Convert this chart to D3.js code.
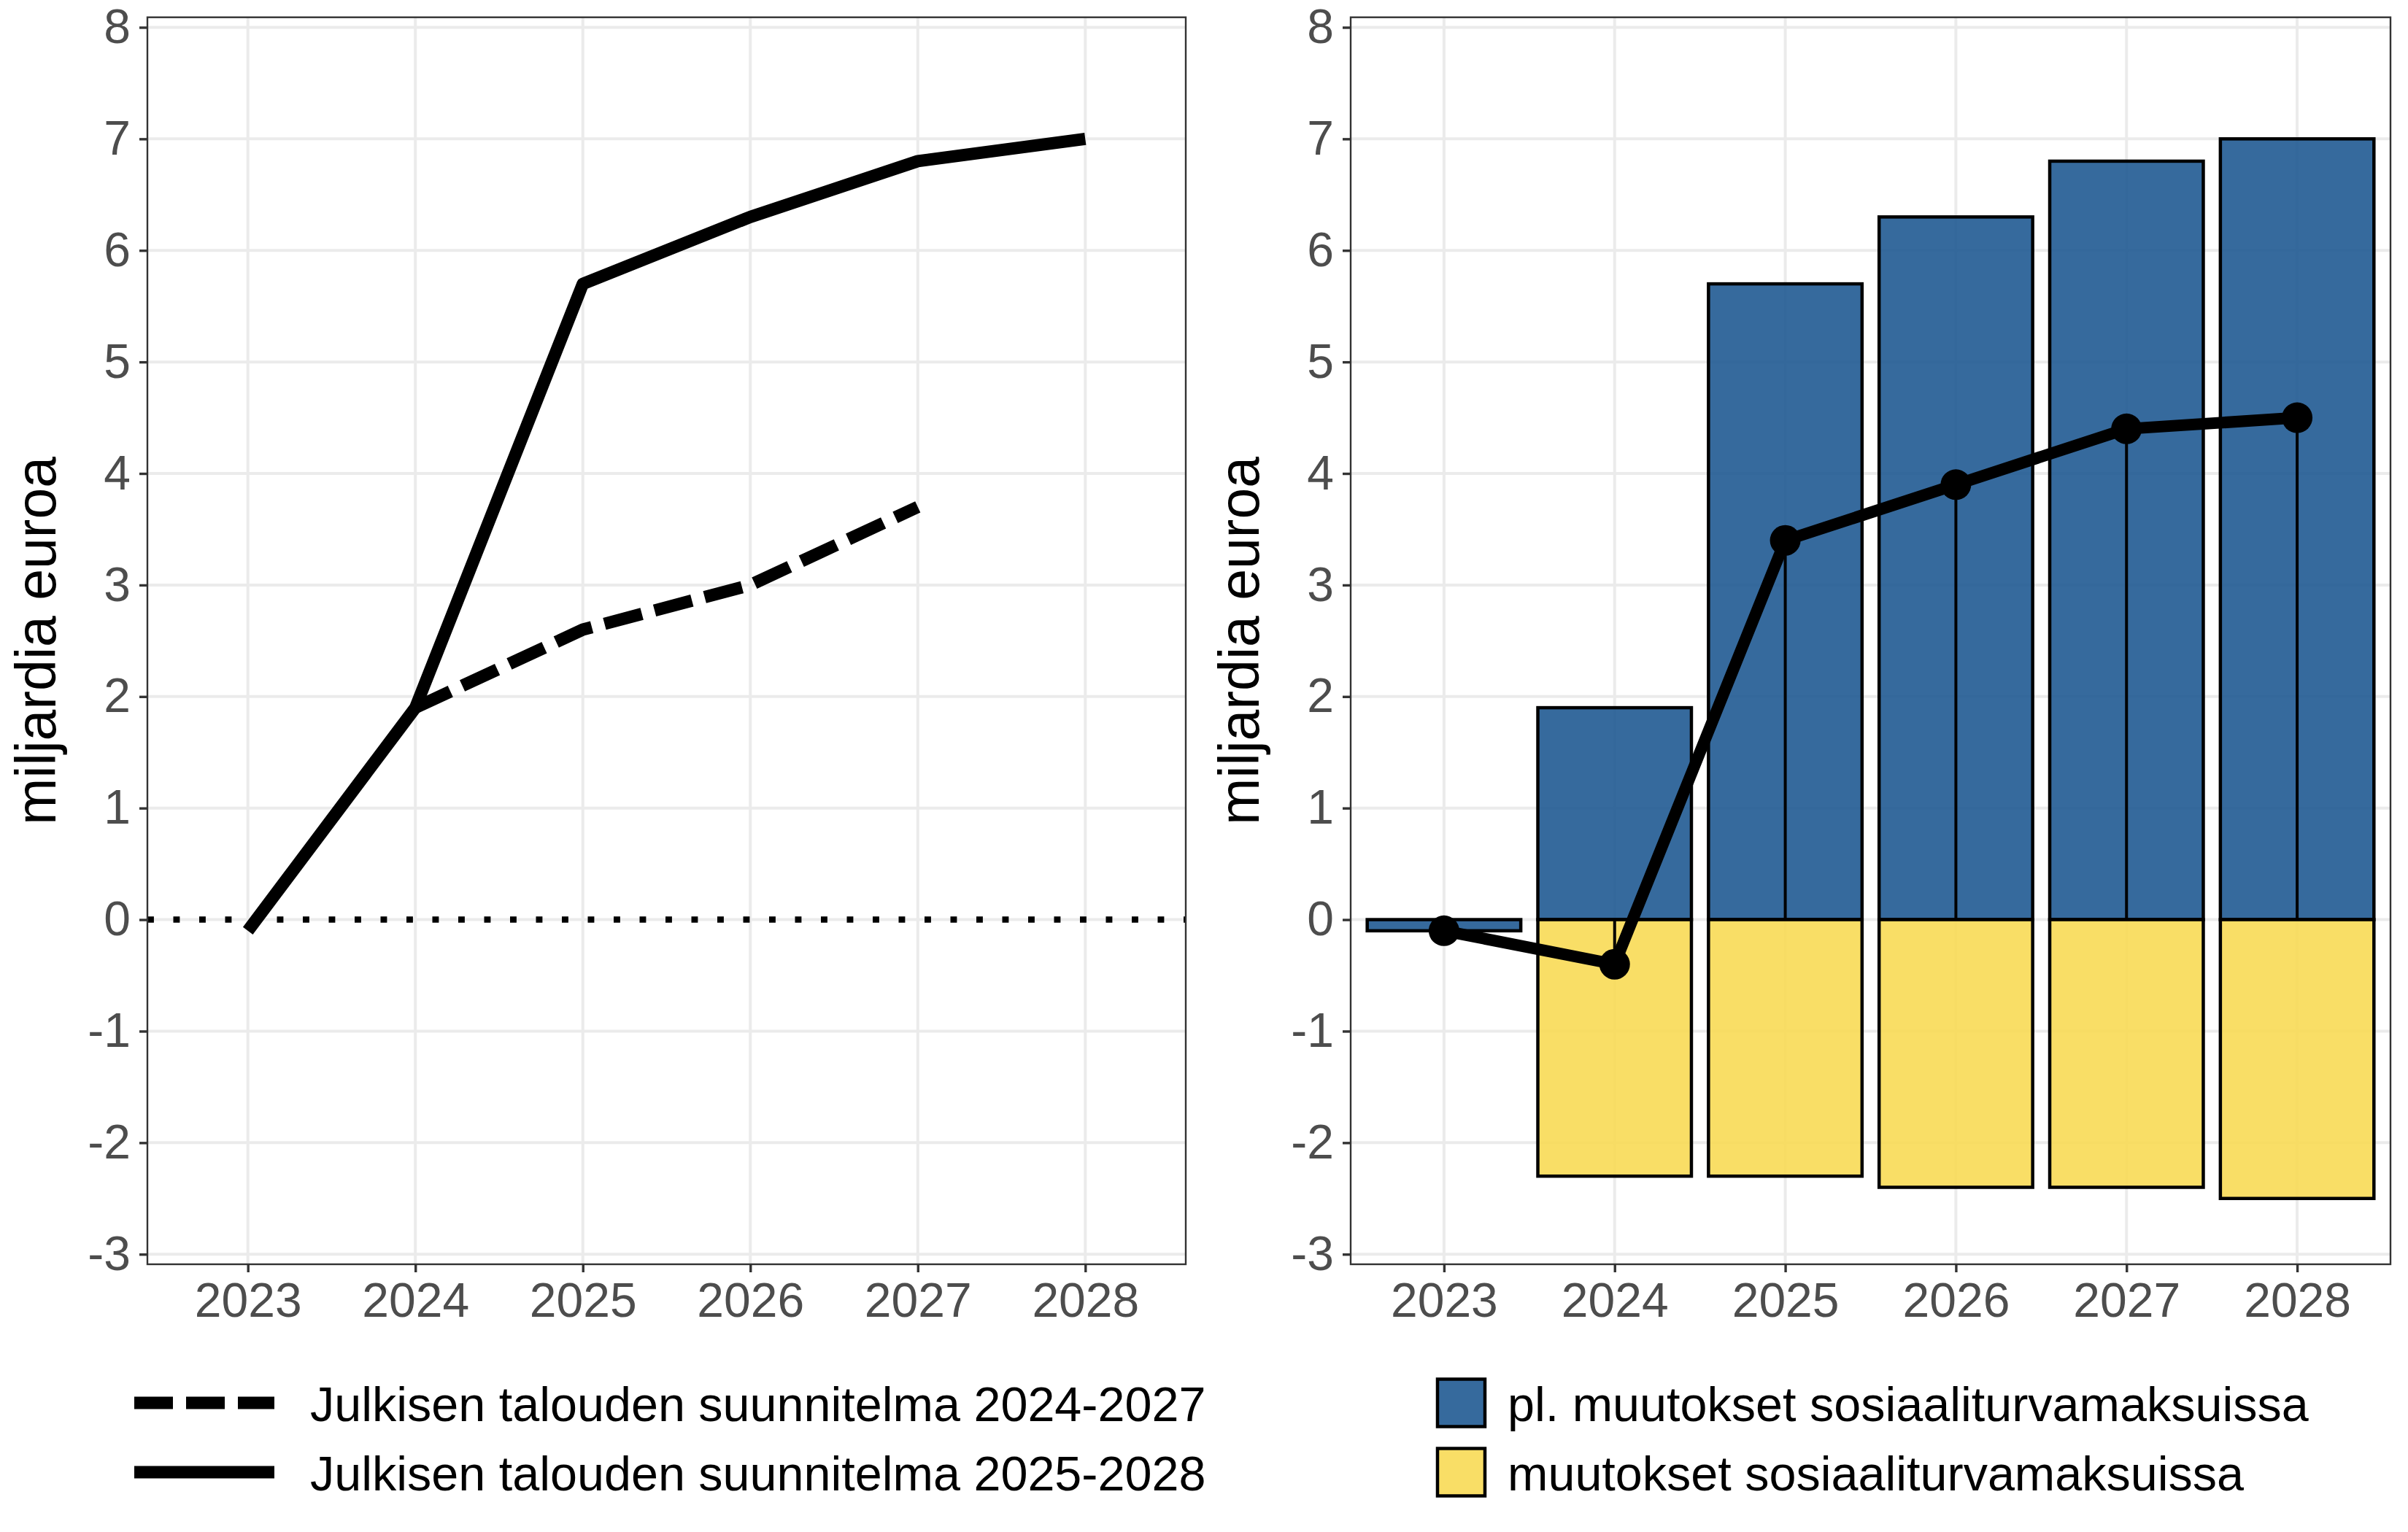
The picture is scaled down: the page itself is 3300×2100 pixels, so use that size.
<!DOCTYPE html>
<html><head><meta charset="utf-8">
<script src="https://cdn.jsdelivr.net/npm/d3@7"></script>
<style>body{margin:0;background:#fff} svg{display:block} text{font-family:"Liberation Sans",Arial,sans-serif}</style>
</head><body><svg id="c" width="3300" height="2100"></svg>
<script>
// ---- data ----
const years = ["2023","2024","2025","2026","2027","2028"];
const yTicks = [-3,-2,-1,0,1,2,3,4,5,6,7,8];
const planOldYears = ["2024","2025","2026","2027"];
const planOldValues = [1.9, 2.6, 3.0, 3.7];           // Julkisen talouden suunnitelma 2024-2027
const planNewValues = [-0.1, 1.9, 5.7, 6.3, 6.8, 7.0]; // Julkisen talouden suunnitelma 2025-2028
const exclSocialValues = [-0.1, 1.9, 5.7, 6.3, 6.8, 7.0]; // pl. muutokset sosiaaliturvamaksuissa
const socialValues = [0, -2.3, -2.3, -2.4, -2.4, -2.5];   // muutokset sosiaaliturvamaksuissa
const totalValues = [-0.1, -0.4, 3.4, 3.9, 4.4, 4.5];
const yTitle = "miljardia euroa";
const lineLegend = ["Julkisen talouden suunnitelma 2024-2027","Julkisen talouden suunnitelma 2025-2028"];
const barLegend = ["pl. muutokset sosiaaliturvamaksuissa","muutokset sosiaaliturvamaksuissa"];

const svg = d3.select("#c");
const TOP = 23.7, BOT = 1733;
const y = d3.scaleLinear().domain([-3.09, 8.09]).range([BOT, TOP]);
const BLUE = "#205a92", YELLOW = "#F8DA55";

function panel(x0, x1, pad, titleX) {
  const x = d3.scalePoint().domain(years).range([x0, x1]).padding(pad);
  const g = svg.append("g");
  g.append("rect").attr("x", x0).attr("y", TOP).attr("width", x1 - x0).attr("height", BOT - TOP).attr("fill", "#fff");
  g.selectAll(".gh").data(yTicks).join("line")
    .attr("x1", x0).attr("x2", x1).attr("y1", d => y(d)).attr("y2", d => y(d))
    .attr("stroke", "#EBEBEB").attr("stroke-width", 4);
  g.selectAll(".gv").data(years).join("line")
    .attr("x1", d => x(d)).attr("x2", d => x(d)).attr("y1", TOP).attr("y2", BOT)
    .attr("stroke", "#EBEBEB").attr("stroke-width", 4);
  const ay = svg.append("g").attr("transform", `translate(${x0},0)`)
    .call(d3.axisLeft(y).tickValues(yTicks).tickSize(11).tickPadding(12).tickFormat(d => String(d)));
  const ax = svg.append("g").attr("transform", `translate(0,${BOT})`)
    .call(d3.axisBottom(x).tickSize(11).tickPadding(14));
  [ay, ax].forEach(a => {
    a.select(".domain").remove();
    a.selectAll(".tick line").attr("stroke", "#333333").attr("stroke-width", 3.4);
    a.selectAll(".tick text").attr("fill", "#4D4D4D").attr("font-size", 66)
      .attr("font-family", '"Liberation Sans", Arial, sans-serif');
  });
  svg.append("text").attr("transform", `translate(${titleX},${(TOP + BOT) / 2}) rotate(-90)`)
    .attr("text-anchor", "middle").attr("font-size", 77).attr("fill", "#000").text(yTitle);
  return {x, g};
}

// ---- left panel ----
const L = panel(202, 1625, 0.6, 76);
L.g.append("line").attr("x1", 202).attr("x2", 1625).attr("y1", y(0)).attr("y2", y(0))
  .attr("stroke", "#000").attr("stroke-width", 8.5).attr("stroke-dasharray", "8.9,26.6");
const lineGen = d3.line();
L.g.append("path")
  .attr("d", lineGen(planOldYears.map((yr, i) => [L.x(yr), y(planOldValues[i])])))
  .attr("fill", "none").attr("stroke", "#000").attr("stroke-width", 17)
  .attr("stroke-dasharray", "53,18").attr("stroke-linejoin", "round");
L.g.append("path")
  .attr("d", lineGen(years.map((yr, i) => [L.x(yr), y(planNewValues[i])])))
  .attr("fill", "none").attr("stroke", "#000").attr("stroke-width", 17).attr("stroke-linejoin", "round");
svg.append("rect").attr("x", 202).attr("y", TOP).attr("width", 1625 - 202).attr("height", BOT - TOP)
  .attr("fill", "none").attr("stroke", "#333333").attr("stroke-width", 2.4);

// ---- right panel ----
const R = panel(1851, 3276, 0.547, 1725);
const bw = R.x.step() * 0.9;
const barData = [];
years.forEach((yr, i) => {
  if (exclSocialValues[i] !== 0) barData.push({yr, v: exclSocialValues[i], c: BLUE});
  if (socialValues[i] !== 0) barData.push({yr, v: socialValues[i], c: YELLOW});
});
R.g.selectAll(".bar").data(barData).join("rect")
  .attr("x", d => R.x(d.yr) - bw / 2).attr("width", bw)
  .attr("y", d => y(Math.max(0, d.v))).attr("height", d => Math.abs(y(d.v) - y(0)))
  .attr("fill", d => d.c).attr("fill-opacity", 0.9).attr("stroke", "#000").attr("stroke-width", 4.5);
R.g.selectAll(".seg").data(years).join("line")
  .attr("x1", d => R.x(d)).attr("x2", d => R.x(d))
  .attr("y1", y(0)).attr("y2", (d, i) => y(totalValues[i]))
  .attr("stroke", "#000").attr("stroke-width", 4);
R.g.append("path")
  .attr("d", lineGen(years.map((yr, i) => [R.x(yr), y(totalValues[i])])))
  .attr("fill", "none").attr("stroke", "#000").attr("stroke-width", 16).attr("stroke-linejoin", "round");
R.g.selectAll(".pt").data(years).join("circle")
  .attr("cx", d => R.x(d)).attr("cy", (d, i) => y(totalValues[i])).attr("r", 21).attr("fill", "#000");
svg.append("rect").attr("x", 1851).attr("y", TOP).attr("width", 3276 - 1851).attr("height", BOT - TOP)
  .attr("fill", "none").attr("stroke", "#333333").attr("stroke-width", 2.4);

// ---- legends ----
const rowY = [1923, 2018];
const lg = svg.append("g");
lg.selectAll(".lk").data(lineLegend).join("line")
  .attr("x1", 184).attr("x2", 376).attr("y1", (d, i) => rowY[i]).attr("y2", (d, i) => rowY[i])
  .attr("stroke", "#000").attr("stroke-width", 17)
  .attr("stroke-dasharray", (d, i) => i === 0 ? "53,18" : null);
lg.selectAll(".lt").data(lineLegend).join("text")
  .attr("x", 425).attr("y", (d, i) => rowY[i] + 25).attr("font-size", 66.5).attr("fill", "#000").text(d => d);
const barColors = [BLUE, YELLOW];
const rg = svg.append("g");
rg.selectAll(".rk").data(barLegend).join("rect")
  .attr("x", 1970).attr("y", (d, i) => rowY[i] - 32.5).attr("width", 65).attr("height", 65)
  .attr("fill", (d, i) => barColors[i]).attr("fill-opacity", 0.9).attr("stroke", "#000").attr("stroke-width", 4.5);
rg.selectAll(".rt").data(barLegend).join("text")
  .attr("x", 2066).attr("y", (d, i) => rowY[i] + 25).attr("font-size", 66.5).attr("fill", "#000").text(d => d);
</script>
</body></html>
